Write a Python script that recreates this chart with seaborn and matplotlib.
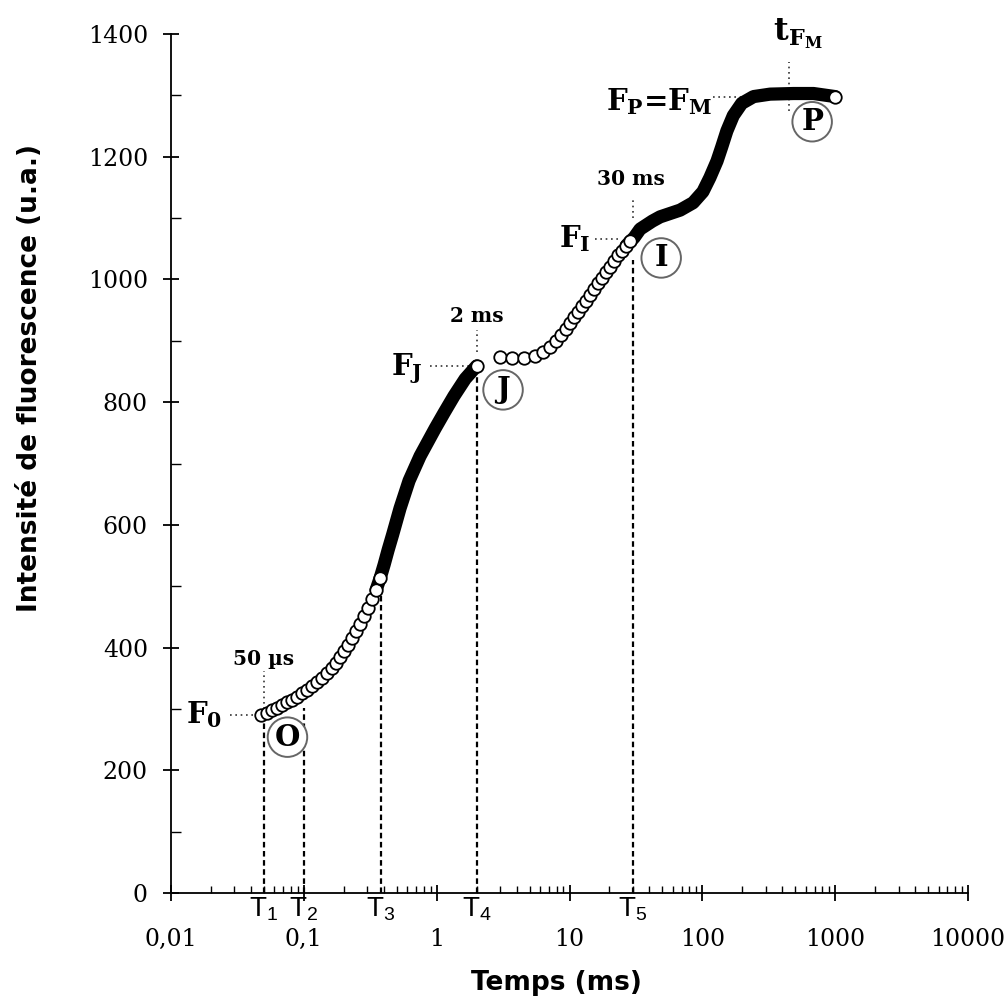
import numpy as np
import pandas as pd
import matplotlib
matplotlib.use("Agg")
import matplotlib.pyplot as plt
import seaborn as sns
from matplotlib.ticker import LogLocator, MultipleLocator, NullFormatter

# ---------------- data ----------------
# O -> J rise (time in ms, fluorescence in a.u.)
t_oj = [0.048, 0.0528, 0.0576, 0.0628, 0.0685, 0.0747, 0.0815, 0.0889, 0.0969,
        0.106, 0.115, 0.126, 0.137, 0.150, 0.163, 0.175, 0.187, 0.201, 0.215,
        0.231, 0.247, 0.265, 0.284, 0.304, 0.326, 0.350, 0.375,
        0.402, 0.431, 0.466, 0.486, 0.530, 0.620, 0.750, 0.973, 1.14, 1.35,
        1.64, 2.0]
F_oj = [290, 294, 298, 302, 306, 311, 315, 320, 326,
        331, 337, 344, 350, 359, 367, 375, 385, 394, 404,
        416, 427, 438, 452, 465, 479, 494, 513,
        535, 559, 584, 598, 627, 672, 712, 757, 783, 810,
        838, 859]
# J -> I -> P rise
t_ip = [3.00, 3.70, 4.55, 5.51, 6.33, 7.14, 7.93, 8.64, 9.35, 10.1, 10.8, 11.6,
        12.4, 13.3, 14.3, 15.3, 16.4, 17.6, 18.9, 20.2, 21.7, 23.2, 24.9, 26.7,
        28.6, 30.6, 34.0, 42.0, 48.1, 68.1, 85.2, 101, 114, 129, 140, 153, 171,
        198, 243, 324, 485, 687, 1000]
F_ip = [874, 872, 872, 875, 881, 890, 900, 910, 919, 929, 938, 947,
        956, 965, 975, 984, 994, 1003, 1012, 1021, 1030, 1039, 1047, 1055,
        1062, 1068, 1082, 1095, 1102, 1113, 1125, 1143, 1166, 1193, 1216, 1242, 1267,
        1287, 1298, 1302, 1303, 1303, 1298]
dense_from_oj = 0.35     # from here on the circles merge into a solid band
dense_from_ip = 26.7

# JIP-test time marks
t_marks = [0.05, 0.1, 0.38, 2.0, 30.0]
t_mark_names = ["1", "2", "3", "4", "5"]
t_mark_tops = [282, 302, 535, 841, 1032]

F0, FJ, FI, FM = 290, 859, 1066, 1298
t_FM = 450

x_ticks = [0.01, 0.1, 1, 10, 100, 1000, 10000]
x_ticklabels = ["0,01", "0,1", "1", "10", "100", "1000", "10000"]
y_ticks = [0, 200, 400, 600, 800, 1000, 1200, 1400]

# ---------------- style ----------------
sns.set_style("ticks")
plt.rcParams["font.family"] = ["DejaVu Serif", "DejaVu Sans"]
plt.rcParams["text.color"] = "black"
plt.rcParams["axes.labelcolor"] = "black"
plt.rcParams["xtick.color"] = "black"
plt.rcParams["ytick.color"] = "black"
plt.rcParams["mathtext.fontset"] = "custom"
plt.rcParams["mathtext.rm"] = "DejaVu Serif:bold"
plt.rcParams["mathtext.it"] = "DejaVu Serif:bold"
plt.rcParams["mathtext.sf"] = "Liberation Sans"

fig = plt.figure(figsize=(10.06, 9.97), dpi=100)
ax = fig.add_axes([0.16998, 0.10431, 0.79225, 0.86159])
ax.set_xscale("log")

df_oj = pd.DataFrame({"t": t_oj, "F": F_oj})
df_ip = pd.DataFrame({"t": t_ip, "F": F_ip})

# solid (dense) parts of the transient
for df, start in ((df_oj, dense_from_oj), (df_ip, dense_from_ip)):
    d = df[df.t >= start]
    sns.lineplot(data=d, x="t", y="F", color="black", lw=9.5, sort=False,
                 estimator=None, ax=ax, zorder=3, solid_capstyle="round",
                 solid_joinstyle="round")
# open circles where samples are distinct
for df, start in ((df_oj, dense_from_oj), (df_ip, dense_from_ip)):
    d = df[df.t <= start * 1.08]
    sns.scatterplot(data=d, x="t", y="F", marker="o", s=81, color="white",
                    edgecolor="black", linewidth=1.3, ax=ax, zorder=4, legend=False)
# last sample of each run stays visible as a white circle
ends = pd.DataFrame({"t": [t_oj[-1], t_ip[-1]], "F": [F_oj[-1], F_ip[-1]]})
sns.scatterplot(data=ends, x="t", y="F", marker="o", s=81, color="white",
                edgecolor="black", linewidth=1.3, ax=ax, zorder=5, legend=False)

# dashed time marks
ax.vlines(t_marks, 0, t_mark_tops, colors="black", linestyles=(0, (2.5, 1.6)),
          lw=1.6, zorder=2)
for t, n in zip(t_marks, t_mark_names):
    ax.text(t, -4, "T$_\\mathsf{" + n + "}$", ha="center", va="top",
            family="Liberation Sans", fontsize=20, clip_on=False)

# dotted guides
g = dict(colors="#333333", linestyles=(0, (1, 2.2)), lw=1.2, zorder=2)
ax.hlines(F0, 0.028, 0.045, **g)
ax.vlines(0.05, 300, 362, **g)
ax.hlines(FJ, 0.89, 1.8, **g)
ax.vlines(2.0, 882, 918, **g)
ax.hlines(FI, 15.6, 24, **g)
ax.vlines(30, 1100, 1134, **g)
ax.hlines(FM, 120, 200, **g)
ax.vlines(t_FM, 1275, 1355, **g)

bs = dict(family="DejaVu Serif", weight="bold")
ax.text(0.0242, 277, "F$_\\mathrm{0}$", ha="right", va="baseline", fontsize=21, **bs)
ax.text(0.79, 844, "F$_\\mathrm{J}$", ha="right", va="baseline", fontsize=21, **bs)
ax.text(14.3, 1053, "F$_\\mathrm{I}$", ha="right", va="baseline", fontsize=21, **bs)
ax.text(118.6, 1276, "F$_\\mathrm{P}$=F$_\\mathrm{M}$", ha="right", va="baseline",
        fontsize=21, **bs)
ax.text(341, 1390, "t$_{\\mathrm{F}_\\mathrm{M}}$", ha="left", va="baseline",
        fontsize=23, **bs)
ax.text(0.05, 372, "50 µs", ha="center", va="baseline", fontsize=14.5, **bs)
ax.text(2.0, 931, "2 ms", ha="center", va="baseline", fontsize=14.5, **bs)
ax.text(29.1, 1154, "30 ms", ha="center", va="baseline", fontsize=14.5, **bs)

circ = dict(boxstyle="circle,pad=0.18", fc="white", ec="#666666", lw=1.4)
for (tx, fy, s) in ((0.0753, 254, "O"), (3.16, 820, "J"), (49, 1035, "I"), (671, 1257, "P")):
    ax.text(tx, fy, s, ha="center", va="center", fontsize=21, bbox=circ, zorder=6, **bs)

# axes
ax.set_xlim(0.01, 10000)
ax.set_ylim(0, 1400)
ax.set_xticks(x_ticks)
ax.set_xticklabels(x_ticklabels)
ax.set_yticks(y_ticks)
ax.xaxis.set_minor_locator(LogLocator(base=10, subs=np.arange(2, 10), numticks=20))
ax.xaxis.set_minor_formatter(NullFormatter())
ax.yaxis.set_minor_locator(MultipleLocator(100))
ax.tick_params(which="both", bottom=True, left=True, top=False, right=False)
ax.tick_params(which="major", direction="inout", length=12, width=1.3, labelsize=17,
               colors="black")
ax.tick_params(which="minor", direction="in", length=5, width=1.0, colors="black")
ax.tick_params(axis="y", which="minor", length=7)
ax.tick_params(axis="x", which="major", pad=19.2)
ax.tick_params(axis="y", which="major", pad=10.6)
for lab in ax.get_xticklabels() + ax.get_yticklabels():
    lab.set_family("DejaVu Serif")

for side in ("top", "right"):
    ax.spines[side].set_visible(False)
for side in ("left", "bottom"):
    ax.spines[side].set_color("black")
    ax.spines[side].set_linewidth(1.3)

ax.set_xlabel("Temps (ms)", family="DejaVu Sans", weight="bold", fontsize=19)
ax.set_ylabel("Intensité de fluorescence (u.a.)", family="DejaVu Sans", weight="bold",
              fontsize=19)
ax.xaxis.set_label_coords(0.483, -0.0896)
ax.yaxis.set_label_coords(-0.1606, 0.60)

fig.savefig("out.png", dpi=100, facecolor="white")
